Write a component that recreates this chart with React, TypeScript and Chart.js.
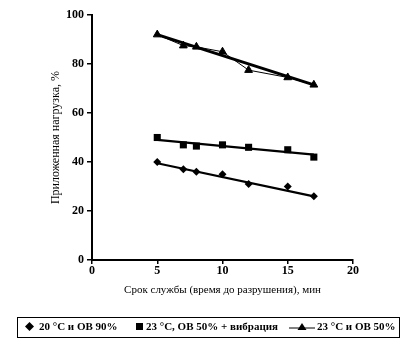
import React, { useEffect, useRef } from "react";
import { Chart, registerables } from "chart.js";

Chart.register(...registerables);

const xValues = [5, 7, 8, 10, 12, 15, 17];
const diamondValues = [40, 37, 36, 35, 31, 30, 26];
const squareValues = [50, 47, 46.5, 47, 46, 45, 42];
const triangleValues = [92, 87.5, 87, 85, 77.5, 74.5, 71.5];

const trendX = [5, 17];
const diamondTrend = [39.5, 26];
const squareTrend = [49, 43];
const triangleTrend = [92, 71.5];

const xTicks = [0, 5, 10, 15, 20];
const yTicks = [0, 20, 40, 60, 80, 100];

const legendLabels = ["20 °C и ОВ 90%", "23 °C, ОВ 50% + вибрация", "23 °C и ОВ 50%"];
const xTitle = "Срок службы (время до разрушения), мин";
const yTitle = "Приложенная нагрузка, %";

const FONT = "'Liberation Serif', 'DejaVu Serif', serif";

const pts = (xs: number[], ys: number[]) => xs.map((x, i) => ({ x, y: ys[i] }));

export default function App() {
  const ref = useRef<HTMLCanvasElement | null>(null);

  useEffect(() => {
    if (!ref.current) return;
    const chart = new Chart(ref.current, {
      type: "scatter",
      data: {
        datasets: [
          {
            data: pts(xValues, diamondValues),
            pointStyle: "rectRot",
            pointRadius: 4,
            backgroundColor: "#000",
            borderColor: "#000",
            borderWidth: 0,
            showLine: false,
          },
          {
            data: pts(trendX, diamondTrend),
            showLine: true,
            borderColor: "#000",
            borderWidth: 2.2,
            pointRadius: 0,
          },
          {
            data: pts(xValues, squareValues),
            pointStyle: "rect",
            pointRadius: 5,
            backgroundColor: "#000",
            borderColor: "#000",
            borderWidth: 0,
            showLine: false,
          },
          {
            data: pts(trendX, squareTrend),
            showLine: true,
            borderColor: "#000",
            borderWidth: 2.2,
            pointRadius: 0,
          },
          {
            data: pts(xValues, triangleValues),
            pointStyle: "triangle",
            pointRadius: 4.5,
            backgroundColor: "#000",
            borderColor: "#000",
            borderWidth: 1,
            showLine: true,
          },
          {
            data: pts(trendX, triangleTrend),
            showLine: true,
            borderColor: "#000",
            borderWidth: 3,
            pointRadius: 0,
          },
        ],
      },
      options: {
        animation: false,
        responsive: true,
        maintainAspectRatio: false,
        layout: { padding: { left: 45, right: 61, top: 15, bottom: 49 } },
        plugins: { legend: { display: false }, tooltip: { enabled: false } },
        scales: {
          x: {
            type: "linear",
            min: 0,
            max: 20,
            afterBuildTicks: (s: any) => {
              s.ticks = xTicks.map((v) => ({ value: v }));
            },
            afterFit: (s: any) => {
              s.height = 41;
            },
            ticks: {
              color: "#000",
              padding: 0,
              font: { family: FONT, size: 12, weight: "bold" },
            },
            grid: { drawOnChartArea: false, drawTicks: true, tickLength: 4, color: "#000", lineWidth: 1.5 },
            border: { display: true, color: "#000", width: 2 },
            title: {
              display: true,
              text: xTitle,
              color: "#000",
              font: { family: FONT, size: 11 },
            },
          },
          y: {
            type: "linear",
            min: 0,
            max: 100,
            afterBuildTicks: (s: any) => {
              s.ticks = yTicks.map((v) => ({ value: v }));
            },
            afterFit: (s: any) => {
              s.width = 47;
            },
            ticks: {
              color: "#000",
              padding: 3,
              font: { family: FONT, size: 12, weight: "bold" },
            },
            grid: { drawOnChartArea: false, drawTicks: true, tickLength: 5, color: "#000", lineWidth: 1.5 },
            border: { display: true, color: "#000", width: 2 },
            title: {
              display: true,
              text: yTitle,
              color: "#000",
              font: { family: FONT, size: 12 },
            },
          },
        },
      },
    } as any);
    return () => chart.destroy();
  }, []);

  const textStyle: React.CSSProperties = {
    fontFamily: FONT,
    fontWeight: "bold",
    fontSize: 11,
    color: "#000",
    whiteSpace: "nowrap",
  };

  return (
    <div style={{ position: "fixed", left: 0, top: 0, width: 414, height: 350, background: "#fff" }}>
      <canvas ref={ref} />
      <div
        style={{
          position: "absolute",
          left: 17,
          top: 317,
          width: 383,
          height: 21,
          boxSizing: "border-box",
          border: "1.5px solid #000",
        }}
      >
        <span style={{ ...textStyle, position: "absolute", left: 7, top: 2 }}>
          <svg width="9" height="9" style={{ verticalAlign: "-1px", marginRight: 5 }}>
            <polygon points="4.5,0 9,4.5 4.5,9 0,4.5" fill="#000" />
          </svg>
          {legendLabels[0]}
        </span>
        <span style={{ ...textStyle, position: "absolute", left: 118, top: 2 }}>
          <svg width="7" height="7" style={{ verticalAlign: "0px", marginRight: 3 }}>
            <rect x="0" y="0" width="7" height="7" fill="#000" />
          </svg>
          {legendLabels[1]}
        </span>
        <span style={{ ...textStyle, position: "absolute", left: 271, top: 2 }}>
          <svg width="26" height="9" style={{ verticalAlign: "-1px", marginRight: 2 }}>
            <line x1="0" y1="6" x2="26" y2="6" stroke="#000" strokeWidth="1" />
            <polygon points="13,1 17.5,8 8.5,8" fill="#000" />
          </svg>
          {legendLabels[2]}
        </span>
      </div>
    </div>
  );
}
